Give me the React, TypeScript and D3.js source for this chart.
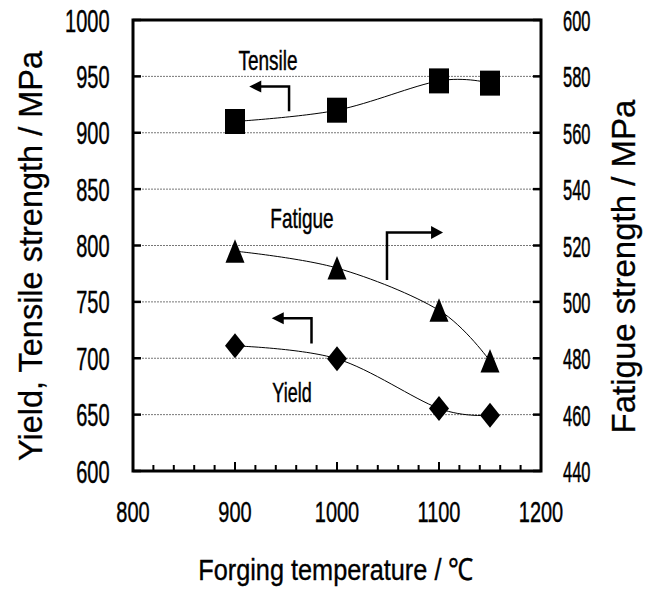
import React from "react";
import * as d3 from "d3";

const temps = [900, 1000, 1100, 1150];
const tensile = [910, 920, 946, 944];
const yieldS = [711, 699.5, 655.5, 649.5];
const fatigue = [518, 512, 497, 479];

const xTicks = [800, 900, 1000, 1100, 1200];
const xMinor = d3.range(800, 1201, 20);
const yLeftTicks = [600, 650, 700, 750, 800, 850, 900, 950, 1000];
const yRightTicks = [440, 460, 480, 500, 520, 540, 560, 580, 600];

// annotation arrows in data units [x (temp), yLeft]
const arrowTensile = { x: 953, y0: 919, y1: 941, tip: 914 };
const arrowYield = { x: 975, y0: 713, y1: 735.5, tip: 936 };
const arrowFatigue = { x: 1049, y0: 769.5, y1: 811.5, tip: 1104 };

const W = 650, H = 596;
const L = 133, R = 541, T = 20, B = 471;

const FONT = "'Liberation Sans', Arial, sans-serif";

function Txt({ x, y, size, sy = 1, anchor = "start", rotate = 0, children }: any) {
  return (
    <text
      transform={`translate(${x},${y}) rotate(${rotate}) scale(1,${sy})`}
      fontSize={size}
      fontFamily={FONT}
      textAnchor={anchor}
      fill="#000"
      stroke="#000"
      strokeWidth={0.3}
    >
      {children}
    </text>
  );
}

export default function App() {
  const x = d3.scaleLinear().domain([800, 1200]).range([L, R]);
  const yL = d3.scaleLinear().domain([600, 1000]).range([B, T]);
  const yR = d3.scaleLinear().domain([440, 600]).range([B, T]);

  const curve = (ys: number[], scale: any) =>
    d3
      .line<number>()
      .x((_, i) => x(temps[i]))
      .y((v) => scale(v))
      .curve(d3.curveCardinal.tension(0))(ys) as string;

  const square = (cx: number, cy: number) => `M${cx - 10},${cy - 12.5}h20v25h-20Z`;
  const tri = (cx: number, cy: number) => `M${cx},${cy - 12}L${cx + 9.5},${cy + 11.5}L${cx - 9.5},${cy + 11.5}Z`;
  const diamond = (cx: number, cy: number) => `M${cx},${cy - 12.5}L${cx + 10},${cy}L${cx},${cy + 12.5}L${cx - 10},${cy}Z`;

  const arrowLeft = (a: any) => {
    const xv = x(a.x), y0 = yL(a.y0), y1 = yL(a.y1), tip = x(a.tip);
    return (
      <g>
        <path d={`M${xv},${y0}V${y1}H${tip + 10}`} fill="none" stroke="#000" strokeWidth={2.5} />
        <path d={`M${tip},${y1}L${tip + 12},${y1 - 6}L${tip + 12},${y1 + 6}Z`} fill="#000" />
      </g>
    );
  };
  const arrowRight = (a: any) => {
    const xv = x(a.x), y0 = yL(a.y0), y1 = yL(a.y1), tip = x(a.tip);
    return (
      <g>
        <path d={`M${xv},${y0}V${y1}H${tip - 10}`} fill="none" stroke="#000" strokeWidth={2.5} />
        <path d={`M${tip},${y1}L${tip - 12},${y1 - 6.5}L${tip - 12},${y1 + 6.5}Z`} fill="#000" />
      </g>
    );
  };

  return (
    <svg width={W} height={H} style={{ position: "absolute", left: 0, top: 0, background: "#fff" }}>
      <rect x={0} y={0} width={W} height={H} fill="#fff" />
      {yLeftTicks.slice(1, -1).map((v) => (
        <line key={v} x1={L} x2={R} y1={yL(v)} y2={yL(v)} stroke="#777" strokeWidth={1} strokeDasharray="2 1" />
      ))}
      {xMinor.map((v) => (
        <line key={"m" + v} x1={x(v)} x2={x(v)} y1={B} y2={B - (v % 100 === 0 ? 9 : 6)} stroke="#000" strokeWidth={2} />
      ))}
      {yLeftTicks.map((v) => (
        <line key={"l" + v} x1={L} x2={L + 8} y1={yL(v)} y2={yL(v)} stroke="#000" strokeWidth={2.5} />
      ))}
      {yRightTicks.map((v) => (
        <line key={"r" + v} x1={R} x2={R - 8} y1={yR(v)} y2={yR(v)} stroke="#000" strokeWidth={2.5} />
      ))}
      <rect x={L} y={T} width={R - L} height={B - T} fill="none" stroke="#000" strokeWidth={3} />

      <path d={curve(tensile, yL)} fill="none" stroke="#000" strokeWidth={1} />
      <path d={curve(yieldS, yL)} fill="none" stroke="#000" strokeWidth={1} />
      <path d={curve(fatigue, yR)} fill="none" stroke="#000" strokeWidth={1} />

      {temps.map((t, i) => (
        <path key={"s" + t} d={square(x(t), yL(tensile[i]))} fill="#000" />
      ))}
      {temps.map((t, i) => (
        <path key={"t" + t} d={tri(x(t), yR(fatigue[i]))} fill="#000" />
      ))}
      {temps.map((t, i) => (
        <path key={"d" + t} d={diamond(x(t), yL(yieldS[i]))} fill="#000" />
      ))}

      {arrowLeft(arrowTensile)}
      {arrowLeft(arrowYield)}
      {arrowRight(arrowFatigue)}

      <Txt x={268} y={70} size={19} sy={1.5} anchor="middle">Tensile</Txt>
      <Txt x={302} y={228} size={19} sy={1.5} anchor="middle">Fatigue</Txt>
      <Txt x={292} y={401.5} size={18} sy={1.55} anchor="middle">Yield</Txt>

      {yLeftTicks.map((v) => (
        <Txt key={"ll" + v} x={109.5} y={yL(v) + 11.5} size={20} sy={1.55} anchor="end">{v}</Txt>
      ))}
      {yRightTicks.map((v) => (
        <Txt key={"rl" + v} x={563} y={yR(v) + 11} size={16.5} sy={1.83} anchor="start">{v}</Txt>
      ))}
      {xTicks.map((v) => (
        <Txt key={"xl" + v} x={x(v)} y={521.5} size={20} sy={1.5} anchor="middle">{v}</Txt>
      ))}

      <Txt x={336} y={580} size={25.3} sy={1.2} anchor="middle">Forging temperature / ℃</Txt>
      <Txt x={42} y={256} size={32.5} rotate={-90} anchor="middle">Yield, Tensile strength / MPa</Txt>
      <Txt x={635} y={266.5} size={33} rotate={-90} anchor="middle">Fatigue strength / MPa</Txt>
    </svg>
  );
}
